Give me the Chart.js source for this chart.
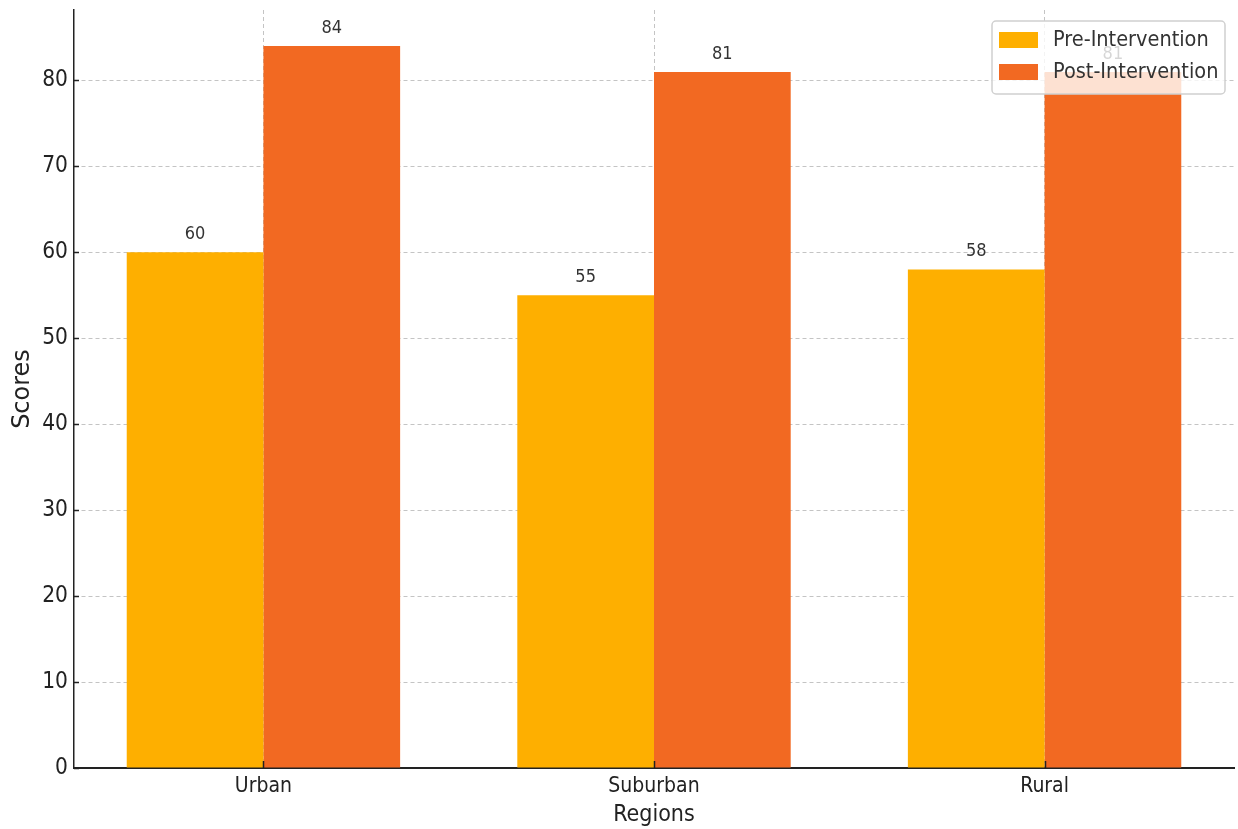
<!DOCTYPE html>
<html>
<head>
<meta charset="utf-8">
<script src="https://cdn.jsdelivr.net/npm/chart.js@4"></script>
<style>
  html, body { margin: 0; padding: 0; background: #fff; }
  #wrap { width: 1238px; height: 829px; }
</style>
</head>
<body>
<div id="wrap"><canvas id="scoresChart"></canvas></div>
<script>
const regions = ['Urban', 'Suburban', 'Rural'];
const preScores = [60, 55, 58];
const postScores = [84, 81, 81];
const yTicks = [0, 10, 20, 30, 40, 50, 60, 70, 80];

const FONT = "'DejaVu Sans Condensed', 'DejaVu Sans', sans-serif";
Chart.defaults.font.family = FONT;
Chart.defaults.color = '#222';

// value labels above bars, inward tick marks and the floating legend box
const overlay = {
  id: 'overlay',
  afterDatasetsDraw(chart) {
    const ctx = chart.ctx;
    ctx.save();
    ctx.font = '18px ' + FONT;
    ctx.fillStyle = '#333';
    ctx.textAlign = 'center';
    ctx.textBaseline = 'middle';
    chart.data.datasets.forEach((ds, di) => {
      chart.getDatasetMeta(di).data.forEach((bar, i) => {
        ctx.fillText(String(ds.data[i].y), bar.x, bar.y - 18);
      });
    });
    ctx.restore();
  },
  afterDraw(chart) {
    const ctx = chart.ctx;
    const { x, y } = chart.scales;
    const area = chart.chartArea;
    ctx.save();
    ctx.strokeStyle = '#222';
    ctx.lineWidth = 1.5;
    ctx.beginPath();
    y.ticks.forEach(t => {
      const py = Math.round(y.getPixelForValue(t.value)) + 0.5;
      ctx.moveTo(area.left, py);
      ctx.lineTo(area.left + 5, py);
    });
    x.ticks.forEach(t => {
      const px = Math.round(x.getPixelForValue(t.value)) + 0.5;
      ctx.moveTo(px, area.bottom);
      ctx.lineTo(px, area.bottom - 7);
    });
    ctx.stroke();

    // "Scores" title, drawn upright-wide like the rest of the axis text
    ctx.font = '24px DejaVu Sans, sans-serif';
    ctx.fillStyle = '#222';
    ctx.textAlign = 'center';
    ctx.textBaseline = 'middle';
    ctx.translate(23, (area.top + area.bottom) / 2);
    ctx.rotate(-Math.PI / 2);
    ctx.fillText('Scores', 0, 0);
    ctx.setTransform(1, 0, 0, 1, 0, 0);

    // legend
    const bx = 992, by = 21, bw = 233, bh = 73;
    ctx.beginPath();
    ctx.roundRect(bx, by, bw, bh, 4);
    ctx.fillStyle = 'rgba(255,255,255,0.8)';
    ctx.fill();
    ctx.strokeStyle = '#d0d0d0';
    ctx.lineWidth = 1.5;
    ctx.stroke();
    ctx.font = '21.5px ' + FONT;
    ctx.textAlign = 'left';
    ctx.textBaseline = 'middle';
    chart.data.datasets.forEach((ds, i) => {
      const ry = 32 + i * 32;
      ctx.fillStyle = ds.backgroundColor;
      ctx.fillRect(999, ry, 39, 16);
      ctx.fillStyle = '#333';
      ctx.fillText(ds.label, 1053, ry + 8);
    });
    ctx.restore();
  }
};

const gridStyle = {
  color: 'rgba(176,176,176,0.75)',
  lineWidth: 1,
  drawTicks: false,
  offset: false
};

new Chart(document.getElementById('scoresChart'), {
  type: 'bar',
  data: {
    datasets: [
      {
        label: 'Pre-Intervention',
        data: preScores.map((v, i) => ({ x: i, y: v })),
        backgroundColor: '#feaf00'
      },
      {
        label: 'Post-Intervention',
        data: postScores.map((v, i) => ({ x: i, y: v })),
        backgroundColor: '#f26922'
      }
    ]
  },
  options: {
    responsive: true,
    maintainAspectRatio: false,
    animation: false,
    layout: { padding: { top: 10, right: 4, left: 0, bottom: 0 } },
    datasets: {
      bar: { categoryPercentage: 0.7, barPercentage: 1.0, borderWidth: 0 }
    },
    scales: {
      x: {
        type: 'linear',
        min: -0.485,
        max: 2.485,
        offset: false,
        z: 1,
        afterBuildTicks: s => { s.ticks = regions.map((_, i) => ({ value: i })); },
        afterFit: s => {
          s.height = 61;
          s.paddingLeft = 0;
          s.paddingRight = 0;
        },
        ticks: {
          callback: v => regions[v],
          font: { size: 21 },
          padding: 6,
          autoSkip: false,
          maxRotation: 0
        },
        grid: gridStyle,
        border: { color: '#222', width: 2, dash: [4, 3] },
        title: {
          display: true,
          text: 'Regions',
          font: { size: 23 },
          padding: { top: 0, bottom: 0 }
        }
      },
      y: {
        min: 0,
        max: 88.2,
        z: 1,
        afterBuildTicks: s => { s.ticks = yTicks.map(v => ({ value: v })); },
        afterFit: s => {
          s.width = 74;
          s.paddingTop = 0;
          s.paddingBottom = 0;
        },
        ticks: { font: { size: 22.5 }, padding: 6 },
        grid: gridStyle,
        border: { color: '#222', width: 1.5, dash: [4, 3] },
        title: { display: false }
      }
    },
    plugins: {
      legend: { display: false },
      tooltip: { enabled: false }
    }
  },
  plugins: [overlay]
});
</script>
</body>
</html>
